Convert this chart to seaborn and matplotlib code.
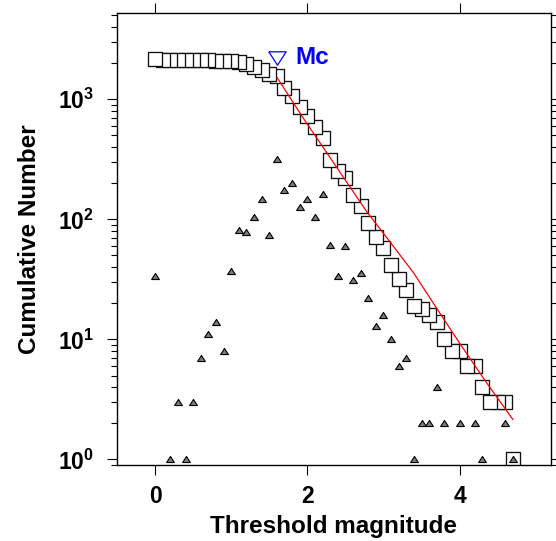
import numpy as np
import pandas as pd
import matplotlib
matplotlib.use("Agg")
import matplotlib.pyplot as plt
import seaborn as sns
from matplotlib.ticker import FixedLocator, LogLocator, NullLocator, FixedFormatter, NullFormatter

# ---- data ----
cum_mag = [0.0, 0.1, 0.2, 0.3, 0.4, 0.5, 0.6, 0.7, 0.8, 0.9,
           1.0, 1.1, 1.2, 1.3, 1.4, 1.5, 1.6, 1.7, 1.8, 1.9,
           2.0, 2.1, 2.2, 2.3, 2.4, 2.5, 2.6, 2.7, 2.8, 2.9,
           3.0, 3.1, 3.2, 3.3, 3.4, 3.5, 3.6, 3.7, 3.8, 3.9,
           4.0, 4.1, 4.2, 4.3, 4.4, 4.5, 4.6, 4.7]
cum_num = [2155, 2121, 2121, 2120, 2117, 2116, 2113, 2106, 2095, 2081,
           2073, 2036, 1954, 1875, 1770, 1622, 1548, 1232, 1057, 857,
           731, 583, 478, 315, 254, 220, 160, 129, 93, 71,
           58, 42, 32, 26, 19, 18, 16, 14, 10, 8,
           8, 6, 6, 4, 3, 3, 3, 1]

inc_mag = [0.0, 0.2, 0.3, 0.4, 0.5, 0.6, 0.7, 0.8, 0.9,
           1.0, 1.1, 1.2, 1.3, 1.4, 1.5, 1.6, 1.7, 1.8, 1.9,
           2.0, 2.1, 2.2, 2.3, 2.4, 2.5, 2.6, 2.7, 2.8, 2.9,
           3.0, 3.1, 3.2, 3.3, 3.4, 3.5, 3.6, 3.7, 3.8,
           4.0, 4.2, 4.3, 4.6, 4.7]
inc_num = [34, 1, 3, 1, 3, 7, 11, 14, 8,
           37, 82, 79, 105, 148, 74, 316, 175, 200, 126,
           148, 105, 163, 61, 34, 60, 31, 36, 22, 13,
           16, 10, 6, 7, 1, 2, 2, 4, 2,
           2, 2, 1, 2, 1]

fit_mag = [1.6, 1.96, 2.78, 3.11, 3.40, 3.70, 4.0, 4.36, 4.7]
fit_num = [1525, 676, 116, 62, 35.5, 18.1, 9.3, 4.3, 2.15]

mc_mag = [1.6]
mc_num = [2220]
mc_label = "Mc"

x_ticks = [0, 2, 4]
x_ticklabels = ["0", "2", "4"]
y_ticks = [1, 10, 100, 1000]
y_ticklabels = [r"$\mathbf{10^{0}}$", r"$\mathbf{10^{1}}$", r"$\mathbf{10^{2}}$", r"$\mathbf{10^{3}}$"]
x_label = "Threshold magnitude"
y_label = "Cumulative Number"

# ---- style ----
sns.set_theme(style="ticks")
plt.rcParams["font.family"] = ["Liberation Sans", "DejaVu Sans"]
plt.rcParams["mathtext.fontset"] = "custom"
plt.rcParams["mathtext.rm"] = "Liberation Sans"
plt.rcParams["mathtext.bf"] = "Liberation Sans:bold"
plt.rcParams["mathtext.it"] = "Liberation Sans:italic"
for key in ["text.color", "axes.labelcolor", "xtick.color", "ytick.color", "axes.edgecolor"]:
    plt.rcParams[key] = "black"

fig = plt.figure(figsize=(5.56, 5.41), dpi=100)
ax = fig.add_axes([0.2104, 0.1405, 0.7806, 0.8349])

cum_df = pd.DataFrame({"mag": cum_mag, "n": cum_num}).iloc[::-1]
inc_df = pd.DataFrame({"mag": inc_mag, "n": inc_num})
fit_df = pd.DataFrame({"mag": fit_mag, "n": fit_num})

sns.scatterplot(data=cum_df, x="mag", y="n", marker="s", s=9.6 ** 2,
                color="white", edgecolor="#111111", linewidth=0.95, ax=ax, zorder=2)
tri_up = [(-1, -0.78), (1, -0.78), (0, 0.78), (-1, -0.78)]
sns.scatterplot(data=inc_df, x="mag", y="n", marker=tri_up, s=5.6 ** 2,
                color="#7a7a7a", edgecolor="black", linewidth=0.8, ax=ax, zorder=3)
sns.lineplot(data=fit_df, x="mag", y="n", color="red", linewidth=0.9, ax=ax,
             zorder=4, estimator=None, sort=False)
tri_down = [(-1, 0.77), (1, 0.77), (0, -0.77), (-1, 0.77)]
sns.scatterplot(x=mc_mag, y=mc_num, marker=tri_down, s=12.5 ** 2,
                color="white", edgecolor="blue", linewidth=0.9, ax=ax, zorder=5)
ax.text(1.84, mc_num[0], mc_label, color="blue", fontsize=17.5,
        fontweight="bold", ha="left", va="center", zorder=6)

ax.set_yscale("log")
ax.set_xlim(-0.5, 5.2)
ax.set_ylim(0.9, 5200)

ax.xaxis.set_major_locator(FixedLocator(x_ticks))
ax.xaxis.set_major_formatter(FixedFormatter(x_ticklabels))
ax.xaxis.set_minor_locator(NullLocator())
ax.yaxis.set_major_locator(FixedLocator(y_ticks))
ax.yaxis.set_major_formatter(FixedFormatter(y_ticklabels))
ax.yaxis.set_minor_locator(LogLocator(base=10, subs=np.arange(2, 10) * 1.0, numticks=20))
ax.yaxis.set_minor_formatter(NullFormatter())

ax.tick_params(axis="both", which="major", direction="out", length=7.5, width=0.8,
               color="black", top=True, right=True)
ax.tick_params(axis="both", which="minor", direction="out", length=4, width=0.8,
               color="black", top=True, right=True)
ax.tick_params(axis="x", which="major", labelsize=16.5, pad=7)
ax.tick_params(axis="y", which="major", labelsize=16.5, pad=9)
for lab in ax.get_xticklabels():
    lab.set_fontweight("bold")

for sp in ax.spines.values():
    sp.set_visible(True)
    sp.set_linewidth(1.0)
    sp.set_color("black")

ax.set_xlabel(x_label, fontsize=17.5, fontweight="bold", labelpad=5)
ax.set_ylabel(y_label, fontsize=17.5, fontweight="bold", labelpad=12)
if ax.get_legend() is not None:
    ax.get_legend().remove()

fig.savefig("out.png", dpi=100)
